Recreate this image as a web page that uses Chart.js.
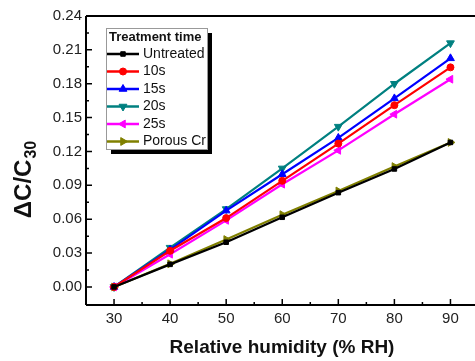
<!DOCTYPE html>
<html><head><meta charset="utf-8">
<script src="https://cdn.jsdelivr.net/npm/chart.js@4"></script>
<style>html,body{margin:0;padding:0;overflow:hidden;background:#fff}#wrap{position:absolute;left:0;top:0;width:484px;height:361px}</style>
</head><body><div id="wrap"><canvas id="c" width="484" height="361"></canvas></div>
<script>
const humidity = [30, 40, 50, 60, 70, 80, 90];
const seriesNames = ['Untreated', '10s', '15s', '20s', '25s', 'Porous Cr'];
const untreated = [0, 0.020, 0.0396, 0.0617, 0.0835, 0.1045, 0.128];
const s10 = [0, 0.032, 0.061, 0.094, 0.127, 0.161, 0.1945];
const s15 = [0, 0.033, 0.0676, 0.0998, 0.132, 0.167, 0.2025];
const s20 = [0, 0.0348, 0.069, 0.105, 0.142, 0.180, 0.216];
const s25 = [0, 0.029, 0.059, 0.091, 0.121, 0.153, 0.184];
const porous = [0, 0.0205, 0.042, 0.064, 0.085, 0.1066, 0.128];
const xTicks = [30, 40, 50, 60, 70, 80, 90];
const yTicks = [0, 0.03, 0.06, 0.09, 0.12, 0.15, 0.18, 0.21, 0.24];
const legendTitle = 'Treatment time';
const xTitle = 'Relative humidity (% RH)';
const yTitleMain = '\u0394C/C';
const yTitleSub = '30';

const seriesValues = [untreated, s10, s15, s20, s25, porous];
const colors = ['#000000', '#ff0000', '#0000ff', '#008080', '#ff00ff', '#808000'];
const pStyles = ['rect', 'circle', 'triangle', 'triangle', 'triangle', 'triangle'];
const pRot = [0, 0, 0, 180, -90, 90];
const pRad = [3.2, 3.5, 4.5, 4.5, 4.5, 4.5];

const datasets = seriesNames.map((n, i) => ({
  label: n,
  data: humidity.map((h, j) => ({x: h, y: seriesValues[i][j]})),
  borderColor: colors[i],
  backgroundColor: colors[i],
  borderWidth: 2.2,
  pointStyle: pStyles[i],
  rotation: pRot[i],
  pointRadius: pRad[i],
  pointBorderWidth: 1,
  tension: 0
}));

const FONT = '"Liberation Sans", Arial, sans-serif';

function minors(ticks) {
  const m = [];
  for (let i = 0; i < ticks.length - 1; i++) m.push((ticks[i] + ticks[i + 1]) / 2);
  return m;
}

const framePlugin = {
  id: 'frame',
  afterDatasetsDraw(chart) {
    const ctx = chart.ctx, a = chart.chartArea;
    const xs = chart.scales.x, ys = chart.scales.y;
    ctx.save();
    ctx.strokeStyle = '#000';
    ctx.lineWidth = 2;
    ctx.beginPath();
    ctx.moveTo(a.left, a.top); ctx.lineTo(a.right, a.top);
    ctx.moveTo(a.left, a.top); ctx.lineTo(a.left, a.bottom);
    ctx.moveTo(a.left, a.bottom); ctx.lineTo(a.right, a.bottom);
    ctx.moveTo(a.right, a.top); ctx.lineTo(a.right, a.bottom);
    ctx.stroke();
    ctx.lineWidth = 1.5;
    ctx.beginPath();
    xTicks.forEach(v => { const p = xs.getPixelForValue(v); ctx.moveTo(p, a.bottom); ctx.lineTo(p, a.bottom - 6); });
    minors(xTicks).forEach(v => { const p = xs.getPixelForValue(v); ctx.moveTo(p, a.bottom); ctx.lineTo(p, a.bottom - 3); });
    yTicks.forEach(v => { const p = ys.getPixelForValue(v); ctx.moveTo(a.left, p); ctx.lineTo(a.left + 6, p); });
    minors(yTicks).forEach(v => { const p = ys.getPixelForValue(v); ctx.moveTo(a.left, p); ctx.lineTo(a.left + 3, p); });
    ctx.stroke();
    ctx.restore();
  },
  afterDraw(chart) {
    const ctx = chart.ctx;
    ctx.save();
    ctx.fillStyle = '#111';
    ctx.font = 'bold 19px ' + FONT;
    ctx.textAlign = 'center';
    ctx.textBaseline = 'middle';
    ctx.fillText(xTitle, 282, 348);
    ctx.save();
    ctx.translate(24, 180);
    ctx.rotate(-Math.PI / 2);
    ctx.font = 'bold 24px ' + FONT;
    const w1 = ctx.measureText(yTitleMain).width;
    ctx.font = 'bold 16px ' + FONT;
    const w2 = ctx.measureText(yTitleSub).width;
    const start = -(w1 + w2) / 2;
    ctx.textAlign = 'left';
    ctx.font = 'bold 24px ' + FONT;
    ctx.fillText(yTitleMain, start, 0);
    ctx.font = 'bold 16px ' + FONT;
    ctx.fillText(yTitleSub, start + w1 + 1, 8);
    ctx.restore();
    const bx = 106, by = 28, bw = 101, bh = 121;
    ctx.fillStyle = '#000';
    ctx.fillRect(bx + 5, by + 5, bw, bh);
    ctx.fillStyle = '#fff';
    ctx.fillRect(bx, by, bw, bh);
    ctx.strokeStyle = '#999';
    ctx.lineWidth = 1;
    ctx.strokeRect(bx + 0.5, by + 0.5, bw, bh);
    ctx.fillStyle = '#111';
    ctx.font = 'bold 13px ' + FONT;
    ctx.textAlign = 'left';
    ctx.textBaseline = 'middle';
    ctx.fillText(legendTitle, 109, 37);
    chart.data.datasets.forEach((ds, i) => {
      const y = 54 + i * 17.5;
      ctx.strokeStyle = ds.borderColor;
      ctx.lineWidth = 2.5;
      ctx.beginPath();
      ctx.moveTo(107, y); ctx.lineTo(139, y);
      ctx.stroke();
      ctx.fillStyle = ds.backgroundColor;
      ctx.strokeStyle = ds.borderColor;
      ctx.lineWidth = 1;
      Chart.helpers.drawPoint(ctx, {pointStyle: ds.pointStyle, rotation: ds.rotation, radius: ds.pointRadius, borderWidth: 1}, 123, y);
      ctx.fillStyle = '#111';
      ctx.font = '14px ' + FONT;
      ctx.fillText(ds.label, 143, y);
    });
    ctx.restore();
  }
};

new Chart(document.getElementById('c'), {
  type: 'line',
  data: {datasets},
  options: {
    responsive: false,
    animation: false,
    devicePixelRatio: 1,
    layout: {padding: {top: 16, right: 2, left: 0, bottom: 0}},
    plugins: {legend: {display: false}, tooltip: {enabled: false}},
    scales: {
      x: {
        type: 'linear', min: 25, max: 95,
        afterBuildTicks: s => { s.ticks = xTicks.map(v => ({value: v})); },
        afterFit: s => { s.height = 56; },
        grid: {display: false, drawTicks: false},
        border: {display: false},
        ticks: {padding: 5, color: '#222', font: {family: FONT, size: 15}, callback: v => String(v)}
      },
      y: {
        type: 'linear', min: -0.016, max: 0.24,
        afterBuildTicks: s => { s.ticks = yTicks.map(v => ({value: v})); },
        afterFit: s => { s.width = 86; },
        grid: {display: false, drawTicks: false},
        border: {display: false},
        ticks: {padding: 4, color: '#222', font: {family: FONT, size: 15}, callback: v => Number(v).toFixed(2)}
      }
    }
  },
  plugins: [framePlugin]
});
</script></body></html>
